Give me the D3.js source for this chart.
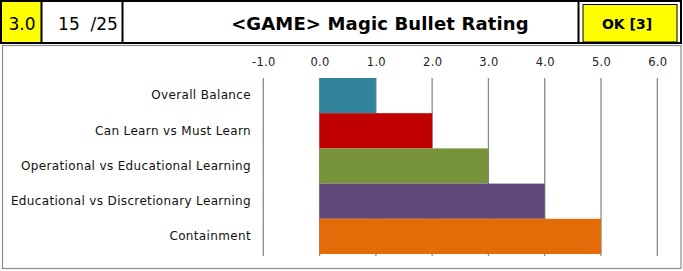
<!DOCTYPE html>
<html><head><meta charset="utf-8">
<script src="https://cdn.jsdelivr.net/npm/d3@7"></script>
<style>
html,body{margin:0;padding:0;background:#fff;}
svg{display:block;}
text{font-family:"DejaVu Sans",sans-serif;}
</style></head>
<body>
<svg id="c" width="683" height="271"></svg>
<script>
const categories = ["Overall Balance","Can Learn vs Must Learn","Operational vs Educational Learning","Educational vs Discretionary Learning","Containment"];
const values = [1,2,3,4,5];
const colors = ["#31849B","#C00000","#77933C","#604A7B","#E36C09"];
const tickValues = [-1,0,1,2,3,4,5,6];
const headerScore = "3.0";
const headerCount = "15 /25";
const title = "<GAME> Magic Bullet Rating";
const status = "OK [3]";

const svg = d3.select("#c");

// chart outer gray frame
svg.append("rect").attr("x",2.5).attr("y",45.5).attr("width",678.5).attr("height",223)
  .attr("fill","none").attr("stroke","#8a8a8a").attr("stroke-width",1.2);

// header
svg.append("rect").attr("x",1).attr("y",1).attr("width",680).attr("height",42)
  .attr("fill","#fff").attr("stroke","#000").attr("stroke-width",2);
svg.append("rect").attr("x",2).attr("y",2).attr("width",39.5).attr("height",40).attr("fill","#FFFF00");
[41.5,122.5,578.5].forEach(x=>svg.append("line").attr("x1",x).attr("x2",x).attr("y1",1).attr("y2",43)
  .attr("stroke","#000").attr("stroke-width",2));
svg.append("rect").attr("x",583).attr("y",4.5).attr("width",94).attr("height",37.5)
  .attr("fill","#FFFF00").attr("stroke","#000").attr("stroke-width",1);

svg.append("text").attr("x",22).attr("y",30).attr("text-anchor","middle")
  .attr("font-size",17).attr("fill","#000").text(headerScore);
svg.append("text").attr("x",88).attr("y",30).attr("text-anchor","middle")
  .attr("font-size",17).attr("fill","#000").attr("xml:space","preserve").style("white-space","pre").text(headerCount.replace(" ","  "));
svg.append("text").attr("x",380).attr("y",29.5).attr("text-anchor","middle")
  .attr("font-size",18).attr("letter-spacing",0.15).attr("font-weight","bold").attr("fill","#000").text(title);
svg.append("text").attr("x",627).attr("y",28.5).attr("text-anchor","middle")
  .attr("font-size",14).attr("font-weight","bold").attr("fill","#000").text(status);

// scales
const x = d3.scaleLinear().domain([-1,6]).range([263.3,657.3]);
const y = d3.scaleBand().domain(categories).range([78,254]).padding(0);

// gridlines
svg.append("g").selectAll("line").data(tickValues).join("line")
  .attr("x1",d=>x(d)).attr("x2",d=>x(d)).attr("y1",78).attr("y2",256)
  .attr("stroke","#8a8a8a").attr("stroke-width",1.3);

// bars
svg.append("g").selectAll("rect").data(values).join("rect")
  .attr("x",x(0)).attr("y",(d,i)=>y(categories[i]))
  .attr("width",d=>x(d)-x(0)).attr("height",y.bandwidth())
  .attr("fill",(d,i)=>colors[i]);

// top axis labels
const fmt = d => (d<0?"-":"") + Math.abs(d).toFixed(1);
const axis = d3.axisTop(x).tickValues(tickValues).tickFormat(fmt).tickSize(0).tickPadding(0);
const ag = svg.append("g").attr("transform","translate(0,66)").call(axis);
ag.select(".domain").remove();
ag.selectAll("text").attr("font-size",11.5).attr("letter-spacing",0.3).attr("font-family","DejaVu Sans").attr("fill","#222");

// category labels
const yAxis = d3.axisLeft(y).tickSize(0).tickPadding(0);
const yg = svg.append("g").attr("transform","translate(251,0)").call(yAxis);
yg.select(".domain").remove();
yg.selectAll("text").attr("font-size",12).attr("letter-spacing",0.35).attr("font-family","DejaVu Sans").attr("fill","#111");
</script>
</body></html>
